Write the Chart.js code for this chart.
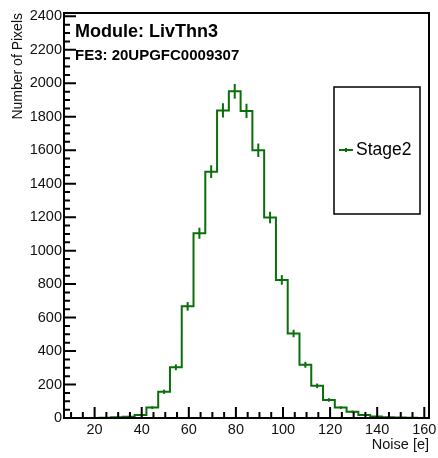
<!DOCTYPE html>
<html>
<head>
<meta charset="utf-8">
<script src="https://cdn.jsdelivr.net/npm/chart.js@4/dist/chart.umd.min.js"></script>
<style>
	html, body { margin: 0; padding: 0; background: #fff; }
	canvas { display: block; }
</style>
</head>
<body>
<canvas id="chart" width="438" height="458"></canvas>
<script>
const binEdges = [7, 12, 17, 22, 27, 32, 37, 42, 47, 52, 57, 62, 67, 72, 77, 82, 87, 92, 97, 102, 107, 112, 117, 122, 127, 132, 137, 142, 147, 152, 157, 162];
const counts = [0, 0, 0, 2, 4, 8, 18, 62, 157, 303, 667, 1104, 1472, 1838, 1952, 1835, 1600, 1198, 825, 505, 318, 192, 108, 62, 38, 18, 9, 5, 3, 1, 0];
const xTicks = [20, 40, 60, 80, 100, 120, 140, 160];
const yTicks = [0, 200, 400, 600, 800, 1000, 1200, 1400, 1600, 1800, 2000, 2200, 2400];
const seriesName = "Stage2";
const moduleName = "Module: LivThn3";
const feName = "FE3: 20UPGFC0009307";

const green = "#0a6e0a";
const font = "'Liberation Sans', Arial, sans-serif";

// histogram outline: one point per lower bin edge, plus the last upper edge
const points = counts.map((c, i) => ({x: binEdges[i], y: c}));
points.push({x: binEdges[binEdges.length - 1], y: counts[counts.length - 1]});

const rootStyle = {
	id: "rootStyle",
	afterDatasetsDraw(chart) {
		const {ctx, chartArea: a, scales: {x, y}} = chart;
		ctx.save();

		// error bars sqrt(N) at bin centres
		ctx.strokeStyle = green;
		ctx.lineWidth = 2;
		counts.forEach((c, i) => {
			if (c <= 0) return;
			const cx = x.getPixelForValue((binEdges[i] + binEdges[i + 1]) / 2);
			const e = Math.sqrt(c);
			ctx.beginPath();
			ctx.moveTo(cx, y.getPixelForValue(c - e));
			ctx.lineTo(cx, y.getPixelForValue(c + e));
			ctx.stroke();
		});

		// frame
		ctx.strokeStyle = "#000";
		ctx.lineWidth = 2;
		ctx.strokeRect(a.left, a.top, a.width, a.height);

		// inward ticks
		ctx.beginPath();
		for (let v = 10; v <= 160; v += 5) {
			const px = x.getPixelForValue(v);
			ctx.moveTo(px, a.bottom);
			ctx.lineTo(px, a.bottom - (v % 20 === 0 ? 11 : 6));
		}
		for (let v = 0; v <= 2400; v += 50) {
			const py = y.getPixelForValue(v);
			ctx.moveTo(a.left, py);
			ctx.lineTo(a.left + (v % 200 === 0 ? 12 : 6), py);
		}
		ctx.stroke();

		// titles
		ctx.fillStyle = "#000";
		ctx.textAlign = "left";
		ctx.textBaseline = "alphabetic";
		ctx.font = "bold 18px " + font;
		ctx.fillText(moduleName, 75, 37);
		ctx.font = "bold 15px " + font;
		ctx.fillText(feName, 75, 60);

		// legend
		ctx.lineWidth = 1.5;
		ctx.strokeRect(334, 87, 86, 127);
		ctx.strokeStyle = green;
		ctx.lineWidth = 2;
		ctx.beginPath();
		ctx.moveTo(339, 150);
		ctx.lineTo(353, 150);
		ctx.moveTo(346, 148);
		ctx.lineTo(346, 152);
		ctx.stroke();
		ctx.font = "17.5px " + font;
		ctx.textBaseline = "middle";
		ctx.fillText(seriesName, 356, 150);

		ctx.restore();
	}
};

const chart = document.getElementById("chart").getContext("2d");
new Chart(chart, {
	type: "line",
	data: {
		datasets: [{
			label: seriesName,
			data: points,
			stepped: "before",
			borderColor: green,
			borderWidth: 2,
			pointRadius: 0,
			fill: false
		}]
	},
	options: {
		responsive: false,
		animation: false,
		layout: {padding: {top: 13, right: 9, left: 0, bottom: 0}},
		plugins: {legend: {display: false}, tooltip: {enabled: false}},
		scales: {
			x: {
				type: "linear",
				min: 7,
				max: 162,
				afterBuildTicks: s => { s.ticks = xTicks.map(v => ({value: v})); },
				afterFit: s => { s.height = 40; s.paddingLeft = 0; s.paddingRight = 0; },
				grid: {display: false, drawTicks: false},
				border: {display: false},
				ticks: {autoSkip: false, maxRotation: 0, padding: 3, color: "#111", font: {family: font, size: 14.5}, callback: v => String(v)},
				title: {display: true, text: "Noise [e]", align: "end", color: "#111", padding: {top: 0, bottom: 4}, font: {family: font, size: 14.5}}
			},
			y: {
				min: 0,
				max: 2420,
				afterBuildTicks: s => { s.ticks = yTicks.map(v => ({value: v})); },
				afterFit: s => { s.width = 64; s.paddingTop = 0; s.paddingBottom = 0; },
				grid: {display: false, drawTicks: false},
				border: {display: false},
				ticks: {autoSkip: false, padding: 2, color: "#111", font: {family: font, size: 14.5}, callback: v => String(v)},
				title: {display: true, text: "Number of Pixels", align: "end", color: "#111", padding: {top: 10, bottom: 0}, font: {family: font, size: 14}}
			}
		}
	},
	plugins: [rootStyle]
});
</script>
</body>
</html>
